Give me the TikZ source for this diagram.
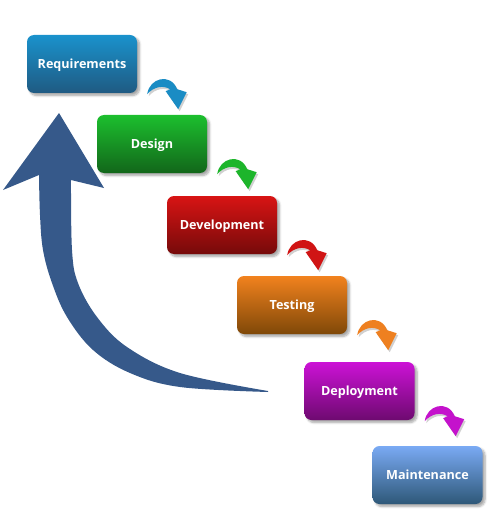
\documentclass[tikz,border=0pt]{standalone}
\usepackage{fontspec}
\setmainfont{Open Sans}
\usetikzlibrary{shadows.blur}
\definecolor{reqT}{HTML}{1A92CC}\definecolor{reqB}{HTML}{1F5A82}
\definecolor{desT}{HTML}{1CBF2E}\definecolor{desB}{HTML}{12661A}
\definecolor{devT}{HTML}{D81414}\definecolor{devB}{HTML}{760A0A}
\definecolor{tesT}{HTML}{F2821E}\definecolor{tesB}{HTML}{7F4808}
\definecolor{depT}{HTML}{CC12D6}\definecolor{depB}{HTML}{6E0A70}
\definecolor{maiT}{HTML}{7AAAF4}\definecolor{maiB}{HTML}{2E5878}
\definecolor{bigblue}{HTML}{36598A}
\definecolor{reqA}{HTML}{1A8CC4}
\definecolor{desA}{HTML}{1DB52B}
\definecolor{devA}{HTML}{D01414}
\definecolor{tesA}{HTML}{EE8020}
\definecolor{depA}{HTML}{C412CC}
\tikzset{
  phase/.style 2 args={rectangle, rounded corners=7pt, minimum width=110pt, minimum height=58pt,
    text height=9pt, text depth=0pt,
    top color=#1, bottom color=#2, text=white, font=\bfseries\fontsize{12.6}{14}\selectfont,
    blur shadow={shadow xshift=2.5pt, shadow yshift=-2.5pt, shadow blur steps=6, shadow opacity=35}},
}
\newcommand\sdlcarrow[2]{%
  \begin{scope}[shift={(#1.south east)}]
    \fill[black!18] (11.5,3) .. controls (13.5,-13) and (34.5,-19) .. (41.5,-2) -- (51,1) -- (42.5,18) -- (30,0) -- (34.5,-2) .. controls (27.5,-6) and (18.5,-5) .. (11.5,3) -- cycle;
    \fill[#2] (10,1) .. controls (12,-15) and (33,-21) .. (40,-4) -- (49.5,-1) -- (41,16) -- (28.5,-2) -- (33,-4) .. controls (26,-8) and (17,-7) .. (10,1) -- cycle;
  \end{scope}}
\begin{document}
\begin{tikzpicture}[x=1pt,y=-1pt]
\useasboundingbox (0,0) rectangle (490,513);
\fill[bigblue] plot[smooth, tension=0.6] coordinates {(268,392) (180,387) (130,373) (93,350) (67,317) (52,283) (43,250) (40,215) (39,175)}
  -- (3,190) -- (59,113) -- (104,188) -- (71,180)
  -- plot[smooth, tension=0.6] coordinates {(71,180) (72,250) (78,283) (97,317) (127,347) (180,373) (268,391)} -- cycle;
\node[phase={reqT}{reqB}] (req) at (82,64) {Requirements};
\node[phase={desT}{desB}] (des) at (152,144) {Design};
\node[phase={devT}{devB}] (dev) at (222,225) {Development};
\node[phase={tesT}{tesB}] (tes) at (292,305) {Testing};
\node[phase={depT}{depB}] (dep) at (359.5,391) {Deployment};
\node[phase={maiT}{maiB}] (mai) at (427.5,475) {Maintenance};
\sdlcarrow{req}{reqA}
\sdlcarrow{des}{desA}
\sdlcarrow{dev}{devA}
\sdlcarrow{tes}{tesA}
\sdlcarrow{dep}{depA}
\end{tikzpicture}
\end{document}
